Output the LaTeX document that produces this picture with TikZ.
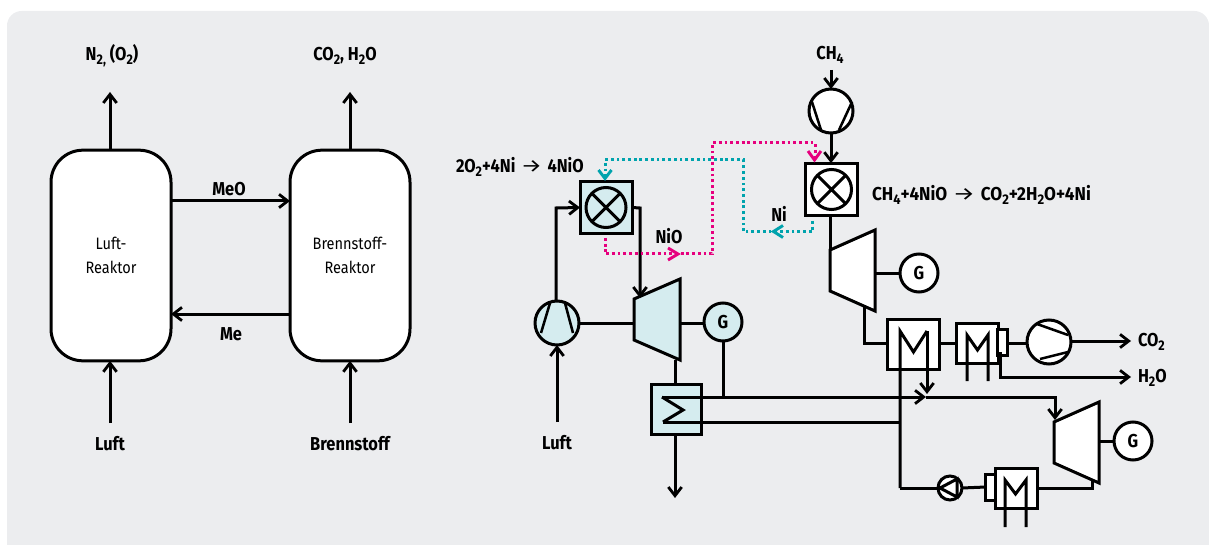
\documentclass[tikz,border=0pt]{standalone}
\usepackage{fontspec}
\usepackage{graphicx}
\setmainfont{Fira Sans}[FakeStretch=0.88]
\usetikzlibrary{arrows.meta}
\definecolor{bgc}{HTML}{ECEDEF}
\definecolor{lightb}{HTML}{D5ECEF}
\definecolor{pinkc}{HTML}{E6007E}
\definecolor{tealc}{HTML}{00A3AD}
\newcommand{\sbs}[1]{\raisebox{-0.4ex}{\fontsize{10.5}{12}\selectfont #1}}
\newcommand{\rarr}{\hspace{4pt}{\fontseries{m}\selectfont\scalebox{1.45}[1]{→}}\hspace{4pt}}
\tikzset{
  arr/.style={-{Straight Barb[length=6.5pt,width=10pt,line width=2.1pt]}},
  reactor/.style={draw,fill=white,rounded corners=24pt,minimum width=90pt,minimum height=158pt,inner sep=0,outer sep=0,align=center,font=\fontsize{12.4}{18}\selectfont},
  lab/.style={font=\fontsize{14}{16}\selectfont\bfseries,inner sep=0,outer sep=0},
  boxn/.style={draw,rectangle,inner sep=0,outer sep=0},
  circn/.style={draw,circle,inner sep=0,outer sep=0,align=center},
  gen/.style={circn,minimum size=28.5pt,font=\fontsize{14}{16}\selectfont\bfseries},
  comp/.style={circn,minimum size=33pt},
  mix/.style={circn,minimum size=30pt},
  pumpn/.style={circn,minimum size=18pt},
  turb/.style={draw,line join=miter},
  pinkd/.style={draw=pinkc,line width=2.25pt,line cap=butt,dash pattern=on 2.1pt off 2.2pt},
  tealdd/.style={draw=tealc,line width=2.25pt,line cap=butt,dash pattern=on 2.1pt off 2.2pt},
  pinktip/.style={pinkc,line width=2.2pt,line join=miter},
  tealtip/.style={tealc,line width=2.2pt,line join=miter},
}
\begin{document}
\begin{tikzpicture}[x=0.75pt,y=-0.75pt,line width=2.25pt]
\useasboundingbox (0,0) rectangle (1209,545);
\clip (0,0) rectangle (1209,545);
\fill[bgc,rounded corners=11pt] (7,11) rectangle (1209,580);

% left part
\node[reactor] (lr) at (111,255.5) {Luft-\\Reaktor};
\node[reactor] (br) at (350,255.5) {Brennstoff-\\Reaktor};
\node[lab] (n2) at (112,56) {N\sbs{2,} (O\sbs{2})};
\node[lab] (co2a) at (345,56) {CO\sbs{2}, H\sbs{2}O};
\node[lab] (meo) at (229,189) {MeO};
\node[lab] (me) at (231,334) {Me};
\node[lab] (luft1) at (110,444) {Luft};
\node[lab] (brst) at (350,444) {Brennstoff};
\coordinate (n2a) at (110,92);
\coordinate (co2b) at (350,92);
\coordinate (l1) at (110,423);
\coordinate (b1) at (350,423);
\draw[arr] (lr.north -| n2a) -- (n2a);
\draw[arr] (br.north) -- (co2b);
\draw[arr] (l1) -- (l1 |- lr.south);
\draw[arr] (b1) -- (br.south);
\coordinate (u) at (0,201);
\coordinate (v) at (0,314);
\draw[arr] (lr.east |- u) -- (br.west |- u);
\draw[arr] (br.west |- v) -- (lr.east |- v);

% reactors right part
\node[boxn,fill=lightb,minimum width=39pt,minimum height=38.5pt] (ox) at (606,207.5) {};
\node[mix,fill=lightb] (oxm) at (606,207.5) {};
\draw (oxm.45) -- (oxm.225) (oxm.135) -- (oxm.315);
\node[boxn,fill=white,minimum width=38.5pt,minimum height=39.5pt] (fu) at (831.5,189.5) {};
\node[mix,fill=white] (fum) at (831.5,189.5) {};
\draw (fum.45) -- (fum.225) (fum.135) -- (fum.315);

% compressors
\node[comp,fill=lightb] (c1) at (557,323) {};
\draw[line width=1.9pt] (550,303) -- (541,333) (565,303) -- (573,333);
\node[comp,fill=white] (c2) at (831,111) {};
\draw[line width=1.9pt] (812,102) -- (821,130) (852,102) -- (839,130);
\node[comp,fill=white] (c3) at (1049,342) {};
\draw[line width=1.9pt] (1037,324) -- (1068,335) (1040,359) -- (1068,352);

% turbines
\draw[turb,fill=lightb] (634,299) coordinate (t1a) -- (680,279) -- (680,360) coordinate (t1r) -- (634,340) -- cycle;
\draw[turb,fill=white] (830,250) coordinate (t2a) -- (875,230) -- (875,311) coordinate (t2r) -- (830,291) -- cycle;
\draw[turb,fill=white] (1054,422) coordinate (t3a) -- (1099,402) -- (1099,483) coordinate (t3r) -- (1054,463) -- cycle;

% generators
\node[gen,fill=lightb] (g1) at (723,322) {G};
\node[gen,fill=white] (g2) at (919,273) {G};
\node[gen,fill=white] (g3) at (1133,441) {G};

% heat exchangers
\node[boxn,fill=lightb,minimum width=38pt,minimum height=38pt] (hx1) at (676.5,409.5) {};
\node[boxn,fill=white,minimum width=39pt,minimum height=37.5pt] (hx2) at (913,344) {};
\node[boxn,fill=white,minimum width=31.5pt,minimum height=29.5pt] (hx3) at (977,343.5) {};
\node[boxn,fill=white,minimum width=7pt,minimum height=19.5pt] (s3) at (1002.5,342) {};
\node[boxn,fill=white,minimum width=31.5pt,minimum height=30pt] (hx4) at (1016,488) {};
\node[boxn,fill=white,minimum width=7pt,minimum height=19.5pt] (s4) at (990.5,487) {};

% pump
\node[pumpn,fill=white] (p) at (950,488) {};
\draw (940,488) -- (957,479) -- (957,497) -- cycle;

% connectors
\coordinate (y1) at (0,323);
\draw (c1.east) -- (t1a |- y1);
\draw (t1r |- y1) -- (g1.west |- y1);
\draw (t2r |- g2) -- (g2.west);
\draw (t3r |- g3) -- (g3.west);
\coordinate (a1) at (556,208);
\draw[arr] (c1.north -| a1) -- (a1) -- (ox.west);
\coordinate (a2) at (640,208);
\draw[arr] (ox.east) -- (a2) -- (640,298);
\draw[arr] (557,422) -- (c1.south);
\draw (675,360) -- (hx1.north -| 675,0);
\draw[arr] (hx1.south -| 675,0) -- (675,498);
\draw[arr] (831,70) -- (c2.north);
\draw[arr] (c2.south) -- (fu.north -| c2.south);
\draw (fu.south -| t2a) -- (t2a);
\coordinate (a3) at (864,343);
\draw (864,306) -- (a3) -- (hx2.west |- a3);
\draw (hx2.east |- a3) -- (hx3.west |- a3);
\draw (s3.east |- a3) -- (c3.west |- a3);
\coordinate (coe) at (1131,341);
\draw[arr] (c3.east |- coe) -- (coe);
\coordinate (h2o) at (1131,377);
\draw[arr] (1000,352) -- (1000,377) -- (h2o);
% coils in exchangers
\draw (662,397) -- (683,410) -- (663,422);
\coordinate (jn) at (926,397);
\draw[arr] (662,397) -- (jn);
\draw (663,422) -- (900,422);
\draw (723,341) -- (723,397);
\draw[arr] (jn) -- (1055,397) -- (1055,420);
\draw (900,488) -- (900,331) -- (913.5,352) -- (927,331);
\draw[arr] (927,331) -- (927,394);
\draw (967,381) -- (967,335) -- (977.5,350) -- (988,335) -- (988,381);
\draw (1005,527) -- (1005,480) -- (1015.5,494) -- (1026,480) -- (1026,527);
\draw (900,488) -- (p.west);
\draw (p.east) -- (s4.west);
\draw (hx4.east |- p) -- (1092,488) -- (1092,481);

% dotted
\draw[pinkd] (605,238) -- (605,254) -- (712,254) -- (712,143) -- (815,143) -- (815,156);
\draw[tealdd] (812.5,221) -- (812.5,231.5) -- (743,231.5) -- (743,160) -- (605,160) -- (605,176);
\draw[pinktip] (808,151) -- (814.5,160) -- (821,151);
\draw[tealtip] (598.5,170) -- (605,178.5) -- (611.5,170);
\draw[pinktip] (668,248) -- (678,254) -- (668,260);
\draw[tealtip] (783,225.5) -- (773.5,231.5) -- (783,237.5);

% labels
\node[lab,anchor=west] (eq1) at (456,167) {2O\sbs{2}+4Ni\rarr 4NiO};
\node[lab,anchor=west] (eq2) at (872,195) {\scalebox{1.045}[1]{CH\sbs{4}+4NiO\rarr CO\sbs{2}+2H\sbs{2}O+4Ni}};
\node[lab] (nio) at (669,236) {NiO};
\node[lab] (ni) at (779,214) {Ni};
\node[lab] (ch4) at (830,55) {CH\sbs{4}};
\node[lab] (luft2) at (557,443) {Luft};
\node[lab,anchor=west] (co2t) at (1138,342) {CO\sbs{2}};
\node[lab,anchor=west] (h2ot) at (1138,378) {H\sbs{2}O};
\end{tikzpicture}
\end{document}
